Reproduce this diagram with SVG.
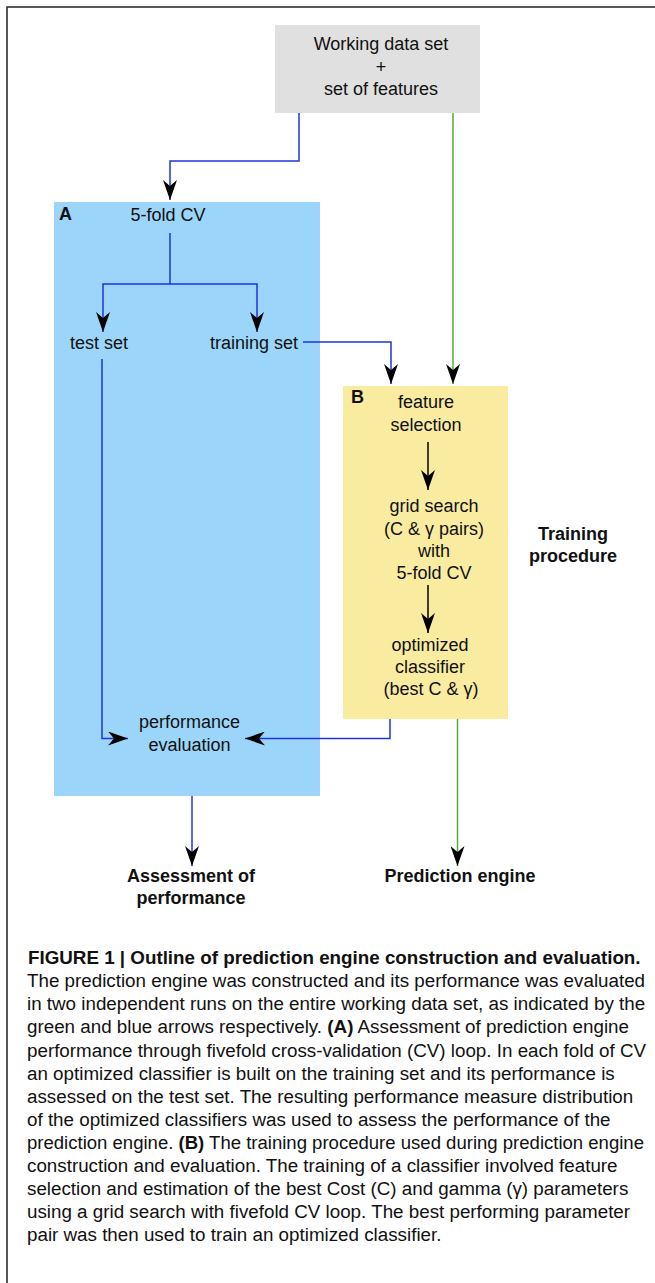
<svg xmlns="http://www.w3.org/2000/svg" width="655" height="1283" viewBox="0 0 655 1283">
<style>
.t{font-family:"Liberation Sans",Arial,sans-serif;font-size:18px;fill:#111;text-anchor:middle}
.b{font-family:"Liberation Sans",Arial,sans-serif;font-size:18px;font-weight:bold;fill:#111}
.c{font-family:"Liberation Sans",Arial,sans-serif;font-size:18.8px;fill:#111}
.cb{font-weight:bold}
.blue{fill:none;stroke:#1f35e0;stroke-width:1.5}
.green{fill:none;stroke:#5aa83a;stroke-width:1.5}
.black{fill:none;stroke:#000;stroke-width:1.5}
</style>
<defs>
<marker id="ah" viewBox="0 0 20 14" refX="20" refY="7" markerWidth="20" markerHeight="14" markerUnits="userSpaceOnUse" orient="auto">
<path d="M0,0 L20,7 L0,14 L6,7 Z" fill="#000"/>
</marker>
</defs>
<rect width="655" height="1283" fill="#fff"/>
<path d="M7,1283 V7 H655" fill="none" stroke="#222" stroke-width="1.5"/>

<g id="node-input">
<rect x="275" y="25" width="205" height="88" fill="#e0e0e0"/>
<text class="t" x="381" y="50">Working data set</text>
<text class="t" x="381" y="72.5">+</text>
<text class="t" x="381" y="95">set of features</text>
</g>

<g id="node-A">
<rect x="54" y="202" width="266" height="594" fill="#9bd6fa"/>
<text class="b" x="59" y="220">A</text>
</g>
<g id="node-cv"><text class="t" x="168" y="221">5-fold CV</text></g>
<g id="node-test"><text class="t" x="99" y="349">test set</text></g>
<g id="node-train"><text class="t" x="254" y="349">training set</text></g>
<g id="node-perf"><text class="t" x="189.5" y="728">performance</text><text class="t" x="189.5" y="750.5">evaluation</text></g>

<g id="node-B">
<rect x="343" y="386" width="165" height="333" fill="#f9eca1"/>
<text class="b" x="351" y="403">B</text>
</g>
<g id="node-fs"><text class="t" x="426" y="408">feature</text><text class="t" x="426" y="430.5">selection</text></g>
<g id="node-grid">
<text class="t" x="434" y="512">grid search</text>
<text class="t" x="434" y="534.5">(C &amp; γ pairs)</text>
<text class="t" x="434" y="557">with</text>
<text class="t" x="434" y="579">5-fold CV</text>
</g>
<g id="node-opt">
<text class="t" x="430" y="651">optimized</text>
<text class="t" x="430" y="673">classifier</text>
<text class="t" x="431" y="695">(best C &amp; γ)</text>
</g>
<g id="label-training"><text class="b" x="573" y="540" text-anchor="middle">Training</text><text class="b" x="573" y="562" text-anchor="middle">procedure</text></g>
<g id="node-assess"><text class="b" x="191" y="882" text-anchor="middle">Assessment of</text><text class="b" x="191" y="904" text-anchor="middle">performance</text></g>
<g id="node-engine"><text class="b" x="460" y="882" text-anchor="middle">Prediction engine</text></g>

<g id="connectors">
<path class="blue" d="M299,113 V161 H170 V200" marker-end="url(#ah)"/>
<path class="green" d="M453,113 V384" marker-end="url(#ah)"/>
<path class="blue" d="M170,233 V284 H103 V332" marker-end="url(#ah)"/>
<path class="blue" d="M170,284 H257 V332" marker-end="url(#ah)"/>
<path class="blue" d="M303,342 H391 V384" marker-end="url(#ah)"/>
<path class="blue" d="M102,359 V738.5 H128" marker-end="url(#ah)"/>
<path class="blue" d="M390,719 V738.5 H245" marker-end="url(#ah)"/>
<path class="green" d="M457.5,719 V866" marker-end="url(#ah)"/>
<path class="blue" d="M192,796 V866" marker-end="url(#ah)"/>
<path class="black" d="M428,442 V490" marker-end="url(#ah)"/>
<path class="black" d="M428,585 V633" marker-end="url(#ah)"/>
</g>

<g id="caption" class="c">
<text x="28" y="964" class="cb">FIGURE 1 | Outline of prediction engine construction and evaluation.</text>
<text x="27" y="987">The prediction engine was constructed and its performance was evaluated</text>
<text x="27" y="1010">in two independent runs on the entire working data set, as indicated by the</text>
<text x="27" y="1033">green and blue arrows respectively. <tspan class="cb">(A)</tspan> Assessment of prediction engine</text>
<text x="27" y="1056.5">performance through fivefold cross-validation (CV) loop. In each fold of CV</text>
<text x="27" y="1079.5">an optimized classifier is built on the training set and its performance is</text>
<text x="27" y="1102.5">assessed on the test set. The resulting performance measure distribution</text>
<text x="27" y="1125.5">of the optimized classifiers was used to assess the performance of the</text>
<text x="27" y="1148.5" textLength="617" lengthAdjust="spacingAndGlyphs">prediction engine. <tspan class="cb">(B)</tspan> The training procedure used during prediction engine</text>
<text x="27" y="1171.5">construction and evaluation. The training of a classifier involved feature</text>
<text x="27" y="1195">selection and estimation of the best Cost (C) and gamma (γ) parameters</text>
<text x="27" y="1218">using a grid search with fivefold CV loop. The best performing parameter</text>
<text x="27" y="1241">pair was then used to train an optimized classifier.</text>
</g>
</svg>
